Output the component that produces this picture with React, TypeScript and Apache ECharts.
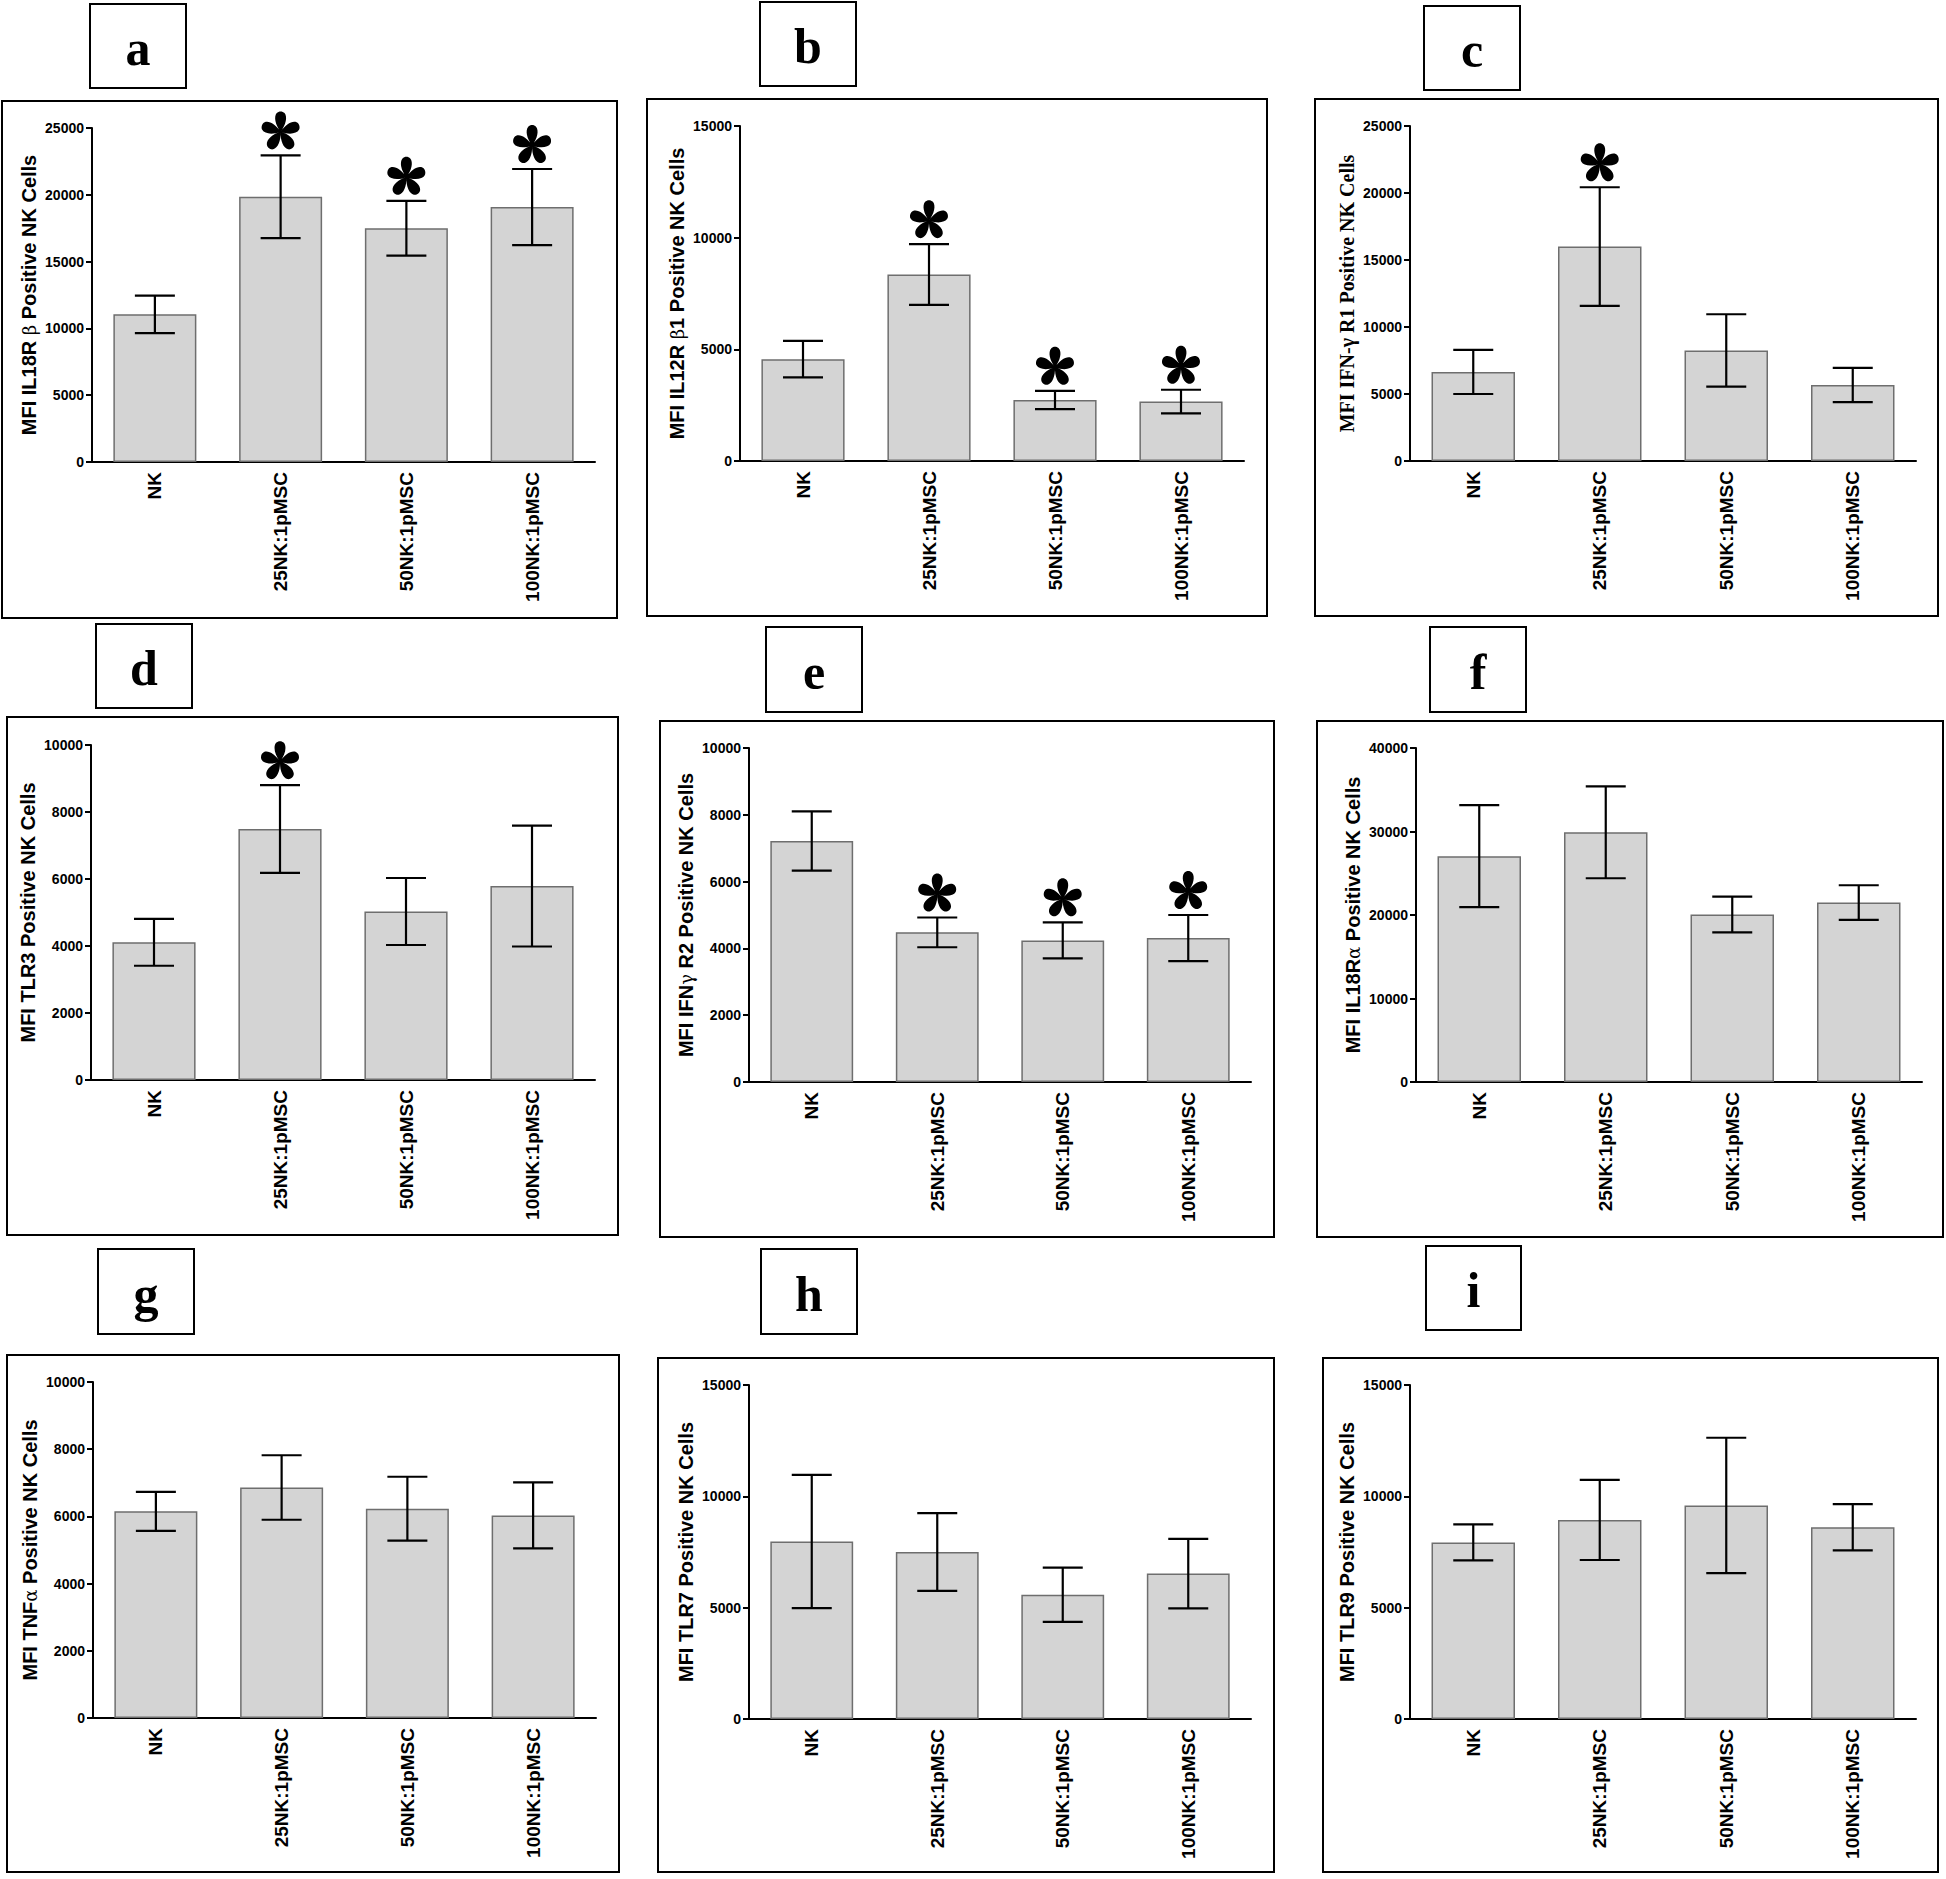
import React, { useEffect, useRef } from "react";
import * as echarts from "echarts";

const categories = ["NK", "25NK:1pMSC", "50NK:1pMSC", "100NK:1pMSC"];

const panelLetters = ["a", "b", "c", "d", "e", "f", "g", "h", "i"];

const yTitles = [
  "MFI IL18R {g|β} Positive NK Cells",
  "MFI IL12R {g|β}1 Positive NK Cells",
  "MFI IFN-γ R1 Positive NK Cells",
  "MFI TLR3 Positive NK Cells",
  "MFI IFN{g|γ} R2 Positive NK Cells",
  "MFI IL18R{g|α} Positive NK Cells",
  "MFI TNF{g|α} Positive NK Cells",
  "MFI TLR7 Positive NK Cells",
  "MFI TLR9 Positive NK Cells",
];

const yMax = [25000, 15000, 25000, 10000, 10000, 40000, 10000, 15000, 15000];
const yInterval = [5000, 5000, 5000, 2000, 2000, 10000, 2000, 5000, 5000];

const meanA = [11050, 19850, 17500, 19080];
const errA = [1400, 3100, 2050, 2850];
const meanB = [4560, 8350, 2730, 2660];
const errB = [820, 1360, 410, 530];
const meanC = [6650, 16000, 8250, 5670];
const errC = [1650, 4430, 2700, 1280];
const meanD = [4110, 7490, 5030, 5790];
const errD = [700, 1310, 1000, 1805];
const meanE = [7215, 4480, 4240, 4310];
const errE = [885, 445, 540, 690];
const meanF = [27050, 29900, 20050, 21490];
const errF = [6100, 5500, 2140, 2070];
const meanG = [6150, 6860, 6230, 6030];
const errG = [580, 960, 950, 980];
const meanH = [7970, 7500, 5580, 6530];
const errH = [2990, 1750, 1220, 1560];
const meanI = [7930, 8940, 9590, 8610];
const errI = [810, 1800, 3040, 1040];

const sigA = [0, 1, 1, 1];
const sigB = [0, 1, 1, 1];
const sigC = [0, 1, 0, 0];
const sigD = [0, 1, 0, 0];
const sigE = [0, 1, 1, 1];
const sigF = [0, 0, 0, 0];
const sigG = [0, 0, 0, 0];
const sigH = [0, 0, 0, 0];
const sigI = [0, 0, 0, 0];

const means = [meanA, meanB, meanC, meanD, meanE, meanF, meanG, meanH, meanI];
const errs = [errA, errB, errC, errD, errE, errF, errG, errH, errI];
const sigs = [sigA, sigB, sigC, sigD, sigE, sigF, sigG, sigH, sigI];

// layout (pixels)
const grids = [
  { left: 92, top: 128, right: 595, bottom: 462 },
  { left: 740, top: 126, right: 1244, bottom: 461 },
  { left: 1410, top: 126, right: 1916, bottom: 461 },
  { left: 91, top: 745, right: 595, bottom: 1080 },
  { left: 749, top: 748, right: 1251, bottom: 1082 },
  { left: 1416, top: 748, right: 1922, bottom: 1082 },
  { left: 93, top: 1382, right: 596, bottom: 1718 },
  { left: 749, top: 1385, right: 1251, bottom: 1719 },
  { left: 1410, top: 1385, right: 1916, bottom: 1719 },
];
const frames = [
  [2, 101, 617, 618],
  [647, 99, 1267, 616],
  [1315, 99, 1938, 616],
  [7, 717, 618, 1235],
  [660, 721, 1274, 1237],
  [1317, 721, 1943, 1237],
  [7, 1355, 619, 1872],
  [658, 1358, 1274, 1872],
  [1323, 1358, 1938, 1872],
];
const boxes = [
  [90, 4, 186, 88],
  [760, 2, 856, 86],
  [1424, 6, 1520, 90],
  [96, 624, 192, 708],
  [766, 627, 862, 712],
  [1430, 627, 1526, 712],
  [98, 1249, 194, 1334],
  [761, 1249, 857, 1334],
  [1426, 1246, 1521, 1330],
];

function buildAsteriskPath(): string {
  const petal = [
    [0, 0],
    [-0.28, 0.35], [-0.36, 0.75], [-0.2, 0.93],
    [-0.1, 1.04], [0.1, 1.04], [0.2, 0.93],
    [0.36, 0.75], [0.28, 0.35], [0, 0],
  ];
  const S = 50;
  let d = "";
  for (let k = 0; k < 5; k++) {
    const a = (k * 72 * Math.PI) / 180;
    const dx = Math.sin(a), dy = -Math.cos(a);
    const px = Math.cos(a), py = Math.sin(a);
    const t = (p: number[]) => {
      const x = S + S * (p[0] * px + p[1] * dx);
      const y = S + S * (p[0] * py + p[1] * dy);
      return x.toFixed(2) + " " + y.toFixed(2);
    };
    d += "M" + t(petal[0]);
    d += " C" + t(petal[1]) + " " + t(petal[2]) + " " + t(petal[3]);
    d += " C" + t(petal[4]) + " " + t(petal[5]) + " " + t(petal[6]);
    d += " C" + t(petal[7]) + " " + t(petal[8]) + " " + t(petal[9]) + " Z ";
  }
  return d;
}

export default function App() {
  const ref = useRef<HTMLDivElement>(null);
  useEffect(() => {
    if (!ref.current) return;
    const chart = echarts.init(ref.current, null, { renderer: "svg" });
    const star = "path://" + buildAsteriskPath();

    const gridOpts: any[] = [];
    const xAxes: any[] = [];
    const yAxes: any[] = [];
    const series: any[] = [];
    const graphics: any[] = [];

    for (let p = 0; p < 9; p++) {
      const g = grids[p];
      gridOpts.push({
        left: g.left,
        top: g.top,
        width: g.right - g.left,
        height: g.bottom - g.top,
        containLabel: false,
      });
      xAxes.push({
        type: "category",
        gridIndex: p,
        data: categories,
        axisLine: { lineStyle: { color: "#000", width: 2 } },
        axisTick: { alignWithLabel: true, length: 7, lineStyle: { color: "#000", width: 2 } },
        axisLabel: {
          rotate: 90,
          margin: 10,
          color: "#000",
          fontSize: 19,
          fontWeight: "bold",
          fontFamily: "Liberation Sans, Arial, sans-serif",
        },
      });
      yAxes.push({
        type: "value",
        gridIndex: p,
        min: 0,
        max: yMax[p],
        interval: yInterval[p],
        name: yTitles[p],
        nameLocation: "middle",
        nameGap: 53,
        nameTextStyle: {
          color: "#000",
          fontSize: 20,
          fontWeight: "bold",
          fontFamily: p === 2 ? "Liberation Serif, Times New Roman, serif" : "Liberation Sans, Arial, sans-serif",
          rich: {
            g: {
              fontWeight: "normal",
              fontSize: 18,
              fontFamily: "DejaVu Serif, serif",
              color: "#000",
            },
          },
        },
        axisLine: { show: true, lineStyle: { color: "#000", width: 2 } },
        axisTick: { show: true, length: 6, lineStyle: { color: "#000", width: 2 } },
        splitLine: { show: false },
        axisLabel: {
          margin: 8,
          color: "#000",
          fontSize: 14,
          fontWeight: "bold",
          fontFamily: "Liberation Sans, Arial, sans-serif",
          formatter: (v: number) => String(v),
        },
      });
      series.push({
        type: "bar",
        xAxisIndex: p,
        yAxisIndex: p,
        data: means[p],
        barCategoryGap: "34%",
        itemStyle: { color: "#d4d4d4", borderColor: "#6e6e6e", borderWidth: 1.5 },
        silent: true,
      });
      series.push({
        type: "custom",
        xAxisIndex: p,
        yAxisIndex: p,
        data: means[p].map((m, i) => [i, m - errs[p][i], m + errs[p][i]]),
        encode: { x: 0, y: [1, 2] },
        z: 5,
        renderItem: (params: any, api: any) => {
          const idx = api.value(0);
          const lo = api.coord([idx, api.value(1)]);
          const hi = api.coord([idx, api.value(2)]);
          const hw = 20;
          const st = { stroke: "#000", lineWidth: 2.2 };
          return {
            type: "group",
            children: [
              { type: "line", shape: { x1: hi[0], y1: hi[1], x2: lo[0], y2: lo[1] }, style: st },
              { type: "line", shape: { x1: hi[0] - hw, y1: hi[1], x2: hi[0] + hw, y2: hi[1] }, style: st },
              { type: "line", shape: { x1: lo[0] - hw, y1: lo[1], x2: lo[0] + hw, y2: lo[1] }, style: st },
            ],
          };
        },
        silent: true,
      });
      const starData = means[p]
        .map((m, i) => (sigs[p][i] ? [i, m + errs[p][i]] : null))
        .filter((d) => d !== null);
      if (starData.length) {
        series.push({
          type: "scatter",
          xAxisIndex: p,
          yAxisIndex: p,
          data: starData,
          symbol: star,
          symbolSize: [38, 38],
          symbolOffset: [0, -25],
          itemStyle: { color: "#000", opacity: 1 },
          z: 6,
          silent: true,
        });
      }
      const f = frames[p];
      graphics.push({
        type: "rect",
        shape: { x: f[0], y: f[1], width: f[2] - f[0], height: f[3] - f[1] },
        style: { fill: "none", stroke: "#000", lineWidth: 2 },
        silent: true,
      });
      const b = boxes[p];
      graphics.push({
        type: "rect",
        shape: { x: b[0], y: b[1], width: b[2] - b[0], height: b[3] - b[1] },
        style: { fill: "#fff", stroke: "#000", lineWidth: 2 },
        silent: true,
      });
      graphics.push({
        type: "text",
        x: (b[0] + b[2]) / 2,
        y: (b[1] + b[3]) / 2 + 2,
        style: {
          text: panelLetters[p],
          fill: "#000",
          font: "bold 50px 'Liberation Serif', 'Times New Roman', serif",
          textAlign: "center",
          textVerticalAlign: "middle",
        },
        silent: true,
      });
    }

    chart.setOption({
      animation: false,
      backgroundColor: "#fff",
      grid: gridOpts,
      xAxis: xAxes,
      yAxis: yAxes,
      series,
      graphic: graphics,
    });
    return () => chart.dispose();
  }, []);
  return (
    <div
      ref={ref}
      style={{ position: "absolute", left: 0, top: 0, width: 1946, height: 1879, background: "#fff" }}
    />
  );
}
